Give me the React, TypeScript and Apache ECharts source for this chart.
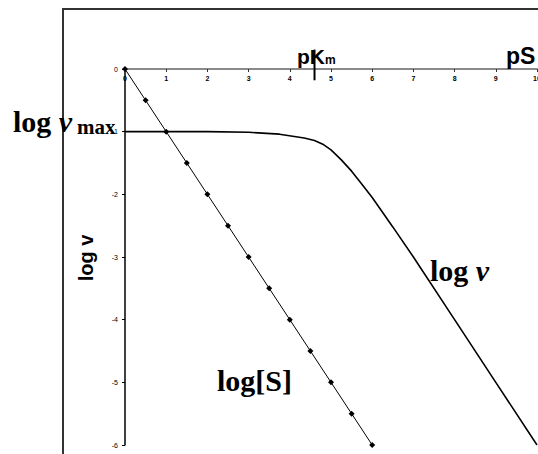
import React, { useEffect, useRef } from "react";
import * as echarts from "echarts";

const pS: number[] = [0, 1, 2, 3, 3.75, 4.35, 4.6, 4.8, 5, 5.25, 5.5, 5.75, 6, 6.5, 7, 8, 9, 10];
const logV: number[] = [-1, -1, -1, -1.01, -1.04, -1.1, -1.14, -1.2, -1.29, -1.45, -1.63, -1.84, -2.05, -2.52, -3.0, -4.0, -5.0, -6.0];
const sX: number[] = [0, 0.5, 1, 1.5, 2, 2.5, 3, 3.5, 4, 4.5, 5, 5.5, 6];
const logS: number[] = [0, -0.5, -1, -1.5, -2, -2.5, -3, -3.5, -4, -4.5, -5, -5.5, -6];
const pKm: number = 4.6;
const xTicks = { min: 0, max: 10, interval: 1 };
const yTicks = { min: -6, max: 0, interval: 1 };

export default function App() {
  const ref = useRef<HTMLDivElement>(null);
  useEffect(() => {
    if (!ref.current) return;
    const chart = echarts.init(ref.current, undefined, { renderer: "svg" });
    const serif = "'Liberation Serif', 'Times New Roman', serif";
    const sans = "'Liberation Sans', Arial, sans-serif";
    chart.setOption({
      animation: false,
      backgroundColor: "#fff",
      grid: {
        left: 125,
        top: 69,
        width: 412,
        height: 376,
        containLabel: false,
        outerBoundsMode: "none",
      },
      xAxis: {
        type: "value",
        position: "top",
        min: xTicks.min,
        max: xTicks.max,
        interval: xTicks.interval,
        axisLine: { onZero: false, lineStyle: { color: "#8a8a8a", width: 2 } },
        axisTick: { inside: true, length: 3, lineStyle: { color: "#333", width: 1 } },
        axisLabel: {
          inside: true,
          margin: 6,
          fontSize: 7,
          fontWeight: "bold",
          fontFamily: sans,
          color: "#000",
          showMaxLabel: true,
        },
        splitLine: { show: false },
      },
      yAxis: {
        type: "value",
        min: yTicks.min,
        max: yTicks.max,
        interval: yTicks.interval,
        axisLine: { onZero: false, lineStyle: { color: "#000", width: 1.5 } },
        axisTick: { length: 3, lineStyle: { color: "#000", width: 1 } },
        axisLabel: {
          margin: 7,
          fontSize: 7,
          fontFamily: sans,
          color: "#000",
        },
        splitLine: { show: false },
      },
      series: [
        {
          type: "line",
          data: pS.map((x, i) => [x, logV[i]]),
          symbol: "none",
          lineStyle: { color: "#000", width: 1.6 },
          z: 3,
        },
        {
          type: "line",
          data: sX.map((x, i) => [x, logS[i]]),
          symbol: "diamond",
          symbolSize: 6,
          itemStyle: { color: "#000" },
          lineStyle: { color: "#000", width: 1 },
          z: 4,
        },
        {
          type: "line",
          data: [
            [pKm, 0.31],
            [pKm, -0.18],
          ],
          symbol: "none",
          clip: false,
          lineStyle: { color: "#000", width: 2 },
          z: 5,
        },
      ],
      graphic: [
        {
          type: "rect",
          shape: { x: 63, y: 9, width: 600, height: 600 },
          style: { fill: "none", stroke: "#333", lineWidth: 2 },
          z: 0,
        },
        {
          type: "text",
          x: 13,
          y: 121,
          style: {
            text: "{a|log }{b|v}",
            verticalAlign: "middle",
            rich: {
              a: { fontFamily: serif, fontWeight: "bold", fontSize: 30, fill: "#000" },
              b: { fontFamily: serif, fontWeight: "bold", fontStyle: "italic", fontSize: 30, fill: "#000" },
            },
          },
          z: 10,
        },
        {
          type: "text",
          x: 77,
          y: 127,
          style: {
            text: "max",
            fontFamily: serif,
            fontWeight: "bold",
            fontSize: 21,
            fill: "#000",
            verticalAlign: "middle",
          },
          z: 10,
        },
        {
          type: "text",
          x: 430,
          y: 270,
          style: {
            text: "{a|log }{b|v}",
            verticalAlign: "middle",
            rich: {
              a: { fontFamily: serif, fontWeight: "bold", fontSize: 30, fill: "#000" },
              b: { fontFamily: serif, fontWeight: "bold", fontStyle: "italic", fontSize: 30, fill: "#000" },
            },
          },
          z: 10,
        },
        {
          type: "text",
          x: 217,
          y: 380,
          style: {
            text: "log[S]",
            fontFamily: serif,
            fontWeight: "bold",
            fontSize: 30,
            fill: "#000",
            verticalAlign: "middle",
          },
          z: 10,
        },
        {
          type: "text",
          x: 297,
          y: 56,
          style: {
            text: "pK",
            fontFamily: sans,
            fontWeight: "bold",
            fontSize: 21,
            fill: "#000",
            verticalAlign: "middle",
          },
          z: 10,
        },
        {
          type: "text",
          x: 325,
          y: 60,
          style: {
            text: "m",
            fontFamily: sans,
            fontWeight: "bold",
            fontSize: 12,
            fill: "#000",
            verticalAlign: "middle",
          },
          z: 10,
        },
        {
          type: "text",
          x: 506,
          y: 56,
          style: {
            text: "pS",
            fontFamily: sans,
            fontWeight: "bold",
            fontSize: 23,
            fill: "#000",
            verticalAlign: "middle",
          },
          z: 10,
        },
        {
          type: "text",
          x: 86,
          y: 258,
          rotation: Math.PI / 2,
          style: {
            text: "log v",
            fontFamily: sans,
            fontWeight: "bold",
            fontSize: 20,
            fill: "#000",
            align: "center",
            verticalAlign: "middle",
          },
          z: 10,
        },
      ],
    });
    return () => chart.dispose();
  }, []);
  return (
    <div
      ref={ref}
      style={{ position: "fixed", left: 0, top: 0, width: 538, height: 454, background: "#fff" }}
    />
  );
}
